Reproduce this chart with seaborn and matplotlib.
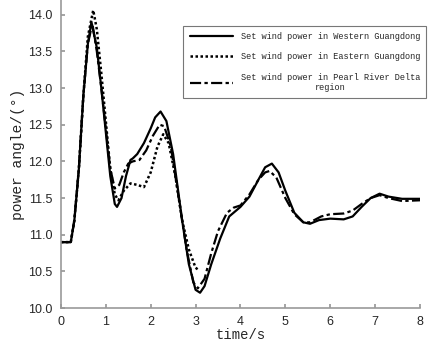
import numpy as np
import pandas as pd
import matplotlib
matplotlib.use("Agg")
import matplotlib.pyplot as plt
import seaborn as sns

# power angle curves
t_west = [0, 0.22, 0.3, 0.4, 0.5, 0.6, 0.68, 0.8, 0.9, 1.0, 1.1, 1.2, 1.25, 1.35, 1.45,
          1.55, 1.6, 1.7, 1.85, 2.0, 2.1, 2.22, 2.35, 2.5, 2.7, 2.85, 3.0, 3.1, 3.2,
          3.35, 3.55, 3.75, 4.0, 4.2, 4.4, 4.55, 4.7, 4.85, 5.0, 5.2, 5.4, 5.55,
          5.75, 6.0, 6.3, 6.5, 6.7, 6.9, 7.1, 7.3, 7.6, 8.0]
a_west = [10.9, 10.9, 11.2, 11.9, 12.9, 13.6, 13.9, 13.55, 13.0, 12.4, 11.8, 11.42, 11.38,
          11.5, 11.8, 12.02, 12.04, 12.1, 12.25, 12.45, 12.6, 12.68, 12.55, 12.1, 11.2,
          10.6, 10.25, 10.21, 10.3, 10.6, 10.95, 11.25, 11.38, 11.52, 11.75, 11.92,
          11.97, 11.85, 11.6, 11.3, 11.17, 11.15, 11.2, 11.22, 11.21, 11.25, 11.38,
          11.5, 11.56, 11.52, 11.49, 11.49]

t_east = [0, 0.22, 0.3, 0.4, 0.5, 0.6, 0.72, 0.8, 0.9, 1.0, 1.1, 1.2, 1.28, 1.4, 1.55,
          1.7, 1.85, 2.0, 2.15, 2.28, 2.4, 2.55, 2.7, 2.85, 3.0, 3.07]
a_east = [10.9, 10.9, 11.2, 11.9, 12.9, 13.7, 14.06, 13.8, 13.2, 12.55, 11.9, 11.55,
          11.47, 11.6, 11.7, 11.68, 11.65, 11.85, 12.2, 12.37, 12.25, 11.8, 11.2, 10.8,
          10.55, 10.52]

t_prd = [0, 0.22, 0.3, 0.4, 0.5, 0.6, 0.7, 0.8, 0.9, 1.0, 1.1, 1.2, 1.3, 1.4, 1.5, 1.6,
         1.75, 1.9, 2.05, 2.2, 2.3, 2.45, 2.6, 2.8, 2.95, 3.05, 3.2, 3.35, 3.5, 3.7,
         3.85, 4.0, 4.2, 4.4, 4.55, 4.65, 4.8, 5.0, 5.2, 5.4, 5.55, 5.8, 6.0, 6.3,
         6.5, 6.7, 6.9, 7.1, 7.3, 7.6, 8.0]
a_prd = [10.9, 10.9, 11.2, 11.9, 12.9, 13.6, 13.88, 13.5, 13.0, 12.45, 11.9, 11.63,
         11.68, 11.85, 11.97, 12.0, 12.02, 12.15, 12.35, 12.5, 12.48, 12.2, 11.6, 10.8,
         10.35, 10.27, 10.4, 10.75, 11.05, 11.3, 11.37, 11.4, 11.55, 11.75, 11.85,
         11.87, 11.78, 11.5, 11.28, 11.17, 11.17, 11.25, 11.28, 11.29, 11.33, 11.42,
         11.5, 11.54, 11.5, 11.46, 11.47]

labels = ["Set wind power in Western Guangdong",
          "Set wind power in Eastern Guangdong",
          "Set wind power in Pearl River Delta\nregion"]

sns.set_theme(style="white")
plt.rcParams['font.family'] = ['Liberation Sans', 'DejaVu Sans']

fig = plt.figure(figsize=(4.29, 3.47), dpi=100)
ax = fig.add_axes([0.142, 0.112, 0.837, 0.888])

sns.lineplot(x=t_west, y=a_west, ax=ax, color="black", lw=1.6, label=labels[0])
sns.lineplot(x=t_east, y=a_east, ax=ax, color="black", lw=1.8, label=labels[1])
sns.lineplot(x=t_prd, y=a_prd, ax=ax, color="black", lw=1.6, label=labels[2])
ax.lines[1].set_linestyle((0, (1, 1)))
ax.lines[2].set_linestyle((0, (5, 1.5, 1.5, 1.5)))

ax.set_xlim(0, 8)
ax.set_ylim(10, 14.2)
ax.set_xticks(range(0, 9))
ax.set_yticks(np.arange(10, 14.01, 0.5))
ax.yaxis.set_major_formatter(matplotlib.ticker.FormatStrFormatter('%.1f'))
ax.tick_params(direction='in', length=3, color='#999999', labelsize=9,
               bottom=True, left=True)
ax.tick_params(axis='x', pad=6)
ax.tick_params(axis='y', pad=6)
for s in ['top', 'right']:
    ax.spines[s].set_visible(False)
for s in ['left', 'bottom']:
    ax.spines[s].set_color('#999999')
    ax.spines[s].set_linewidth(1.2)

mono = ['Liberation Mono', 'DejaVu Sans Mono']
ax.set_xlabel("time/s", family=mono, fontsize=10, labelpad=0)
ax.set_ylabel("power angle/(°)", family=mono, fontsize=10.5, labelpad=2)

leg = ax.legend(loc='upper right', bbox_to_anchor=(1.025, 0.925), prop={'family': mono, 'size': 6.2},
                frameon=True, fancybox=False, edgecolor='#555555', handlelength=5.0,
                borderpad=0.75, labelspacing=1.3, handletextpad=0.9, borderaxespad=0.3)
leg.get_frame().set_linewidth(0.8)
for txt in leg.get_texts():
    txt.set_multialignment('center')

fig.savefig("out.png", dpi=100)
